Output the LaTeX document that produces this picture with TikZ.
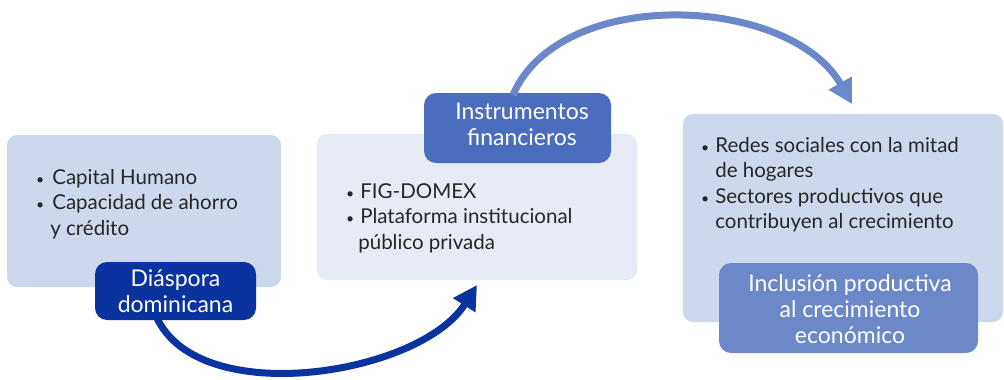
\documentclass[tikz,border=0pt]{standalone}
\usepackage{fontspec}
\setmainfont{Lato}
\usetikzlibrary{arrows.meta}
\definecolor{boxA}{HTML}{CED8EC}
\definecolor{boxB}{HTML}{E7EBF5}
\definecolor{navy}{HTML}{0A33A0}
\definecolor{midblue}{HTML}{4A6EBD}
\definecolor{softblue}{HTML}{6B88C8}
\definecolor{txt}{HTML}{262626}
\tikzset{
  panel/.style={rounded corners=10pt, draw=none},
  tag/.style={rounded corners=12pt, draw=none, text=white, align=center,
    font=\fontsize{23}{26}\selectfont, inner sep=0pt},
  list/.style={anchor=north west, inner sep=0pt, text=txt, align=left,
    font=\fontsize{20.5}{25.5}\selectfont},
  flow/.style={line width=7pt, -{Triangle[length=24pt,width=25pt]}},
}
\newcommand{\bul}{{\fontsize{14}{14}\selectfont\textbullet}}
\begin{document}
\begin{tikzpicture}[x=1pt,y=-1pt]
\useasboundingbox (0,0) rectangle (1004,380);
% panels
\fill[panel, boxA] (7,135) rectangle (281,287);
\fill[panel, boxB] (317,134) rectangle (637,280);
\fill[panel, boxA] (683,114) rectangle (1003,322);
% panel text
\node[list] (t1) at (36,166) {\begin{tabular}{@{}l@{\hspace{8pt}}l@{}}\bul & Capital Humano\\ \bul & Capacidad de ahorro\\ & \hspace{-2pt}y crédito\end{tabular}};
\node[list] (t2) at (346,180) {\begin{tabular}{@{}l@{\hspace{6pt}}l@{}}\bul & FIG-DOMEX\\ \bul & Plataforma institucional\\ & \hspace{-2pt}público privada\end{tabular}};
\node[list] (t3) at (701,134) {\begin{tabular}{@{}l@{\hspace{6pt}}l@{}}\bul & Redes sociales con la mitad\\ & de hogares\\ \bul & Sectores productivos que\\ & contribuyen al crecimiento\end{tabular}};
% tags
\fill[rounded corners=12pt, navy] (95,262) rectangle (256,320);
\node[tag] (diaspora) at (175.5,291) {Diáspora\\dominicana};
\fill[rounded corners=12pt, midblue] (424,93) rectangle (611,163);
\node[tag] (instr) at (522,124) {Instrumentos\\financieros};
\fill[rounded corners=12pt, softblue] (719,263) rectangle (978,353);
\node[tag] (incl) at (850,309) {Inclusión productiva\\al crecimiento\\económico};
% arrows
\coordinate (a1s) at (157,318);
\coordinate (a1e) at (477,285);
\coordinate (a2s) at (513,95);
\coordinate (a2e) at (852,104);
\draw[flow, navy] (a1s) .. controls (200,410) and (420,375) .. (a1e);
\draw[flow, softblue] (a2s) .. controls (560,-15) and (790,-5) .. (a2e);
\end{tikzpicture}
\end{document}
